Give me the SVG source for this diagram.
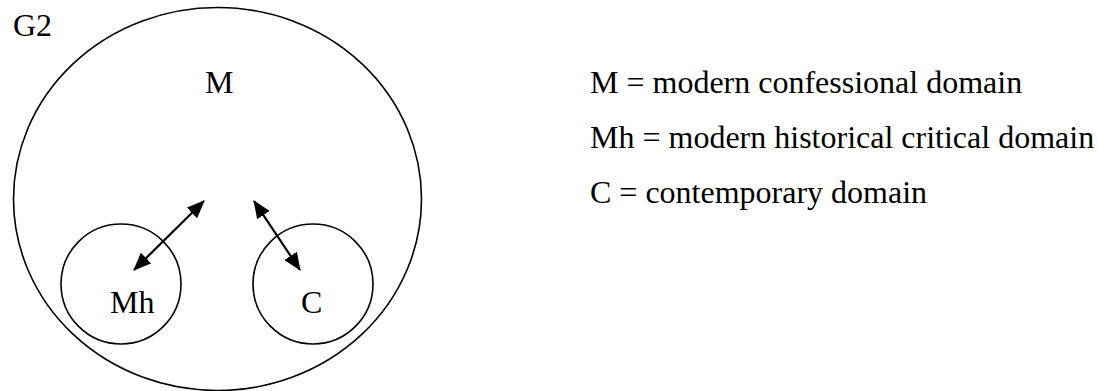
<svg xmlns="http://www.w3.org/2000/svg" width="1098" height="391" viewBox="0 0 1098 391">
<style>
text{font-family:'Liberation Serif','Times New Roman','DejaVu Serif',serif;font-size:32px;fill:#000}
.c{fill:none;stroke:#000;stroke-width:1.6}
.a{stroke:#000;stroke-width:2.2;fill:none}
</style>
<defs>
<marker id="ah" markerUnits="userSpaceOnUse" viewBox="0 0 18 15" refX="17" refY="7.5" markerWidth="18" markerHeight="15" orient="auto-start-reverse">
<path d="M0,0 L18,7.5 L0,15 Z" fill="#000"/>
</marker>
</defs>
<rect width="1098" height="391" fill="#fff"/>
<text font-family="Liberation Serif, serif" x="13" y="36">G2</text>
<g id="M">
<ellipse class="c" cx="217.5" cy="199" rx="204" ry="191.5"/>
<text font-family="Liberation Serif, serif" x="205" y="93">M</text>
</g>
<g id="Mh">
<circle class="c" cx="121" cy="284" r="60"/>
<text font-family="Liberation Serif, serif" x="110" y="313">Mh</text>
</g>
<g id="C">
<circle class="c" cx="313" cy="284" r="60"/>
<text font-family="Liberation Serif, serif" x="301" y="313">C</text>
</g>
<g id="connectors">
<line class="a" x1="134" y1="270" x2="204" y2="201" marker-start="url(#ah)" marker-end="url(#ah)"/>
<line class="a" x1="254" y1="201" x2="300" y2="270" marker-start="url(#ah)" marker-end="url(#ah)"/>
</g>
<g id="legend">
<text font-family="Liberation Serif, serif" x="590" y="93">M = modern confessional domain</text>
<text font-family="Liberation Serif, serif" x="590" y="148">Mh = modern historical critical domain</text>
<text font-family="Liberation Serif, serif" x="590" y="203">C = contemporary domain</text>
</g>
</svg>
